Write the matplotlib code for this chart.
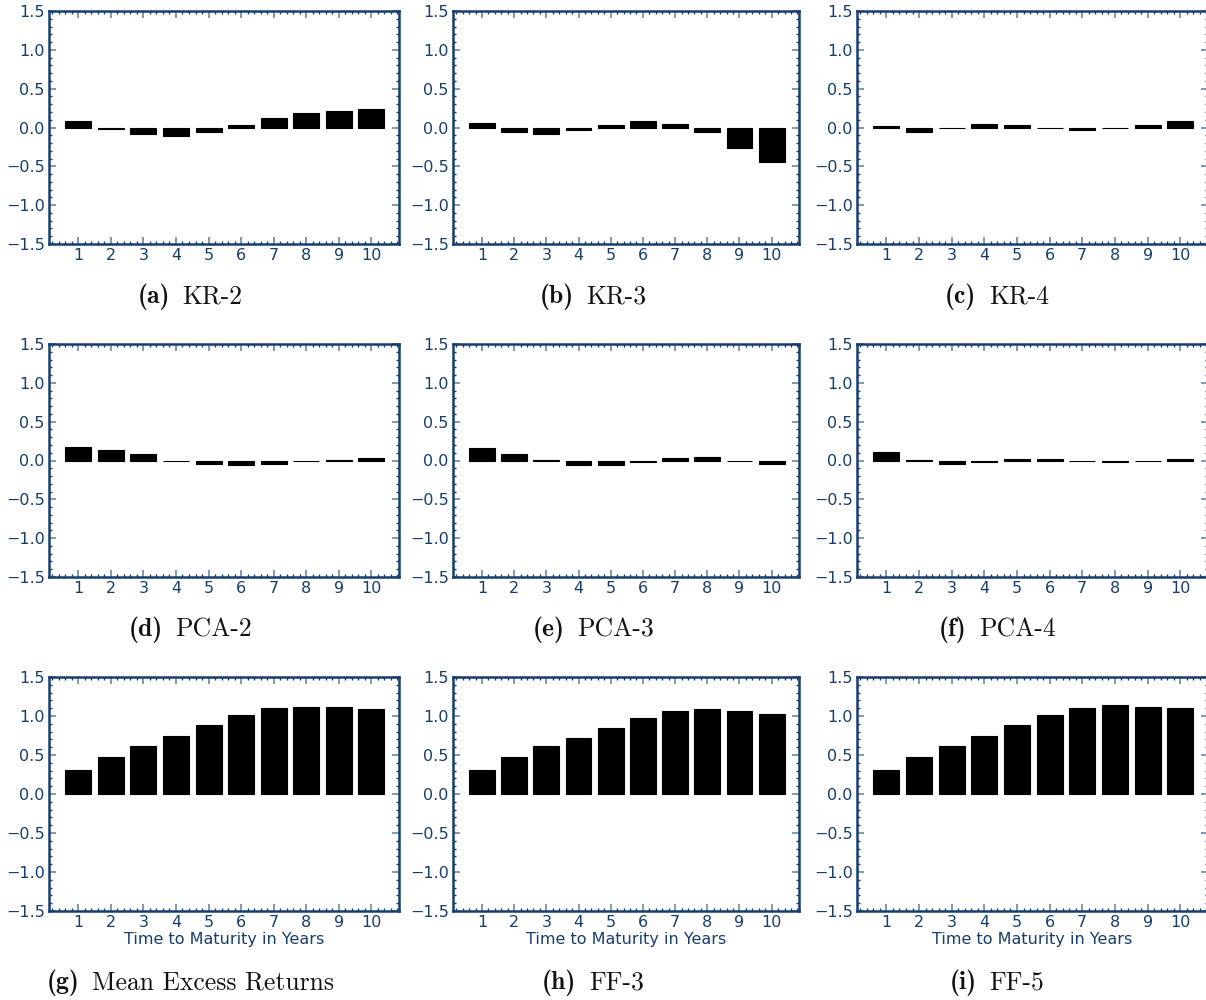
import matplotlib
matplotlib.use("Agg")
import matplotlib.pyplot as plt
from matplotlib.ticker import MultipleLocator
from matplotlib.offsetbox import TextArea, HPacker, AnnotationBbox

# --- datos ---
maturities = [1, 2, 3, 4, 5, 6, 7, 8, 9, 10]

kr2 = [0.08, -0.02, -0.08, -0.11, -0.06, 0.03, 0.12, 0.19, 0.21, 0.24]
kr3 = [0.06, -0.06, -0.08, -0.03, 0.03, 0.08, 0.05, -0.06, -0.26, -0.45]
kr4 = [0.02, -0.06, -0.01, 0.05, 0.03, -0.01, -0.03, -0.01, 0.03, 0.08]
pca2 = [0.18, 0.14, 0.08, -0.01, -0.05, -0.06, -0.04, -0.01, 0.01, 0.03]
pca3 = [0.16, 0.09, 0.01, -0.06, -0.06, -0.02, 0.03, 0.04, -0.005, -0.05]
pca4 = [0.11, 0.01, -0.05, -0.02, 0.02, 0.02, -0.01, -0.02, -0.01, 0.02]
mean_excess = [0.31, 0.48, 0.62, 0.74, 0.88, 1.01, 1.10, 1.12, 1.11, 1.085]
ff3 = [0.31, 0.47, 0.61, 0.72, 0.85, 0.98, 1.06, 1.085, 1.06, 1.02]
ff5 = [0.31, 0.47, 0.61, 0.74, 0.88, 1.01, 1.10, 1.14, 1.12, 1.10]

panel_letters = ["a", "b", "c", "d", "e", "f", "g", "h", "i"]
panel_titles = ["KR-2", "KR-3", "KR-4", "PCA-2", "PCA-3", "PCA-4",
                "Mean Excess Returns", "FF-3", "FF-5"]
panel_series = [kr2, kr3, kr4, pca2, pca3, pca4, mean_excess, ff3, ff5]
xlabel_text = "Time to Maturity in Years"

# --- estilo ---
AZUL = "#173d6e"
AZUL_CLARO = "#6a86a6"

W, H = 1206, 1000
fig = plt.figure(figsize=(W / 100, H / 100), dpi=100)

col_left = [49, 453, 857]
col_width = [350, 346, 351]
row_top = [11, 344, 677]
row_height = [233, 233, 234]
caption_x = [190, 593, 997]
caption_y = [297, 630, 983]

for i, (serie, letra, titulo) in enumerate(zip(panel_series, panel_letters, panel_titles)):
    r, c = divmod(i, 3)
    ax = fig.add_axes([col_left[c] / W, 1 - (row_top[r] + row_height[r]) / H,
                       col_width[c] / W, row_height[r] / H])
    ax.bar(maturities, serie, width=0.8, color="black", edgecolor="black", linewidth=0.8)
    ax.set_xlim(0.1, 10.85)
    ax.set_ylim(-1.5, 1.5)
    ax.set_xticks(maturities)
    ax.set_yticks([-1.5, -1.0, -0.5, 0.0, 0.5, 1.0, 1.5])
    ax.xaxis.set_minor_locator(MultipleLocator(0.2))
    ax.yaxis.set_minor_locator(MultipleLocator(0.1))
    ax.tick_params(which="both", direction="in", top=True, right=True,
                   labelsize=11.5, labelcolor=AZUL)
    ax.tick_params(which="major", length=5, width=1.2, color=AZUL_CLARO, pad=3)
    ax.tick_params(which="minor", length=2.5, width=1, color=AZUL)
    for sp in ax.spines.values():
        sp.set_color(AZUL)
        sp.set_linewidth(1.8)
    if r == 2:
        ax.set_xlabel(xlabel_text, color=AZUL, fontsize=11.5, labelpad=1)

    # subtítulo estilo LaTeX: "(x)" en negrita + título en romana
    parte_bold = TextArea("(" + letra + ")", textprops=dict(family="cmb10", fontsize=18.5, color="#111111"))
    parte_rom = TextArea(titulo, textprops=dict(family="cmr10", fontsize=18.5, color="#111111"))
    caja = HPacker(children=[parte_bold, parte_rom], pad=0, sep=9, align="baseline")
    ab = AnnotationBbox(caja, (caption_x[c] / W, 1 - caption_y[r] / H), xycoords="figure fraction",
                        box_alignment=(0.5, 0.5), frameon=False, pad=0)
    fig.add_artist(ab)

fig.savefig("out.png", dpi=100)
